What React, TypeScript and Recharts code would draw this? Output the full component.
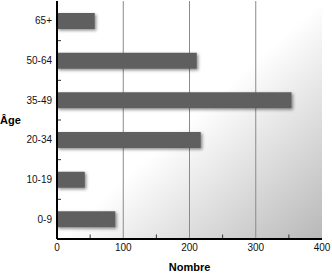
import { BarChart, Bar, XAxis, YAxis, CartesianGrid } from "recharts";

const ageGroups = ["65+", "50-64", "35-49", "20-34", "10-19", "0-9"];
const counts = [57, 211, 354, 217, 42, 88];
// labelled ticks every 100, small inner marks every 50 in between
const xTicks = [0, 50, 100, 150, 200, 250, 300, 350, 400];

const data = ageGroups.map((age, i) => ({ age, count: counts[i] }));

const GAP = 5;
const font = "Liberation Sans, Arial, sans-serif";
const labelStyle = { fill: "#000", fontSize: 11, fontWeight: "bold", fontFamily: font };

const XTick = (props: any) => {
  const { x, y, payload } = props;
  const v = payload.value;
  if (v % 100 !== 0) {
    const axisY = y - GAP;
    return <line x1={x} x2={x} y1={axisY - 1} y2={axisY - 4.5} stroke="#333" strokeWidth={1} />;
  }
  return (
    <text x={x} y={y} dy="0.71em" textAnchor="middle" fontSize={10} fontFamily={font} fill="#111">
      {v}
    </text>
  );
};

const YTick = (props: any) => {
  const { x, y, payload, index, height } = props;
  const axisX = x + GAP;
  let half = Number(payload?.offset);
  if (!half && height) half = height / ageGroups.length / 2;
  if (!half) half = 19.8;
  return (
    <g>
      <text x={x} y={y} dy="0.355em" textAnchor="end" fontSize={10} fontFamily={font} fill="#111">
        {payload.value}
      </text>
      {index < ageGroups.length - 1 && (
        <line x1={axisX + 1} x2={axisX + 4} y1={y + half} y2={y + half} stroke="#333" strokeWidth={1} />
      )}
    </g>
  );
};

export default function App() {
  return (
    <div style={{ position: "absolute", left: 0, top: 0 }}>
      <BarChart
        width={332}
        height={273}
        data={data}
        layout="vertical"
        margin={{ top: 1, right: 10, left: 0, bottom: 0 }}
      >
        <defs>
          <linearGradient id="bg" x1="0" y1="0" x2="1" y2="1">
            <stop offset="0.5" stopColor="#ffffff" />
            <stop offset="1" stopColor="#b8b8b8" />
          </linearGradient>
          <filter id="shadow" x="-10%" y="-40%" width="130%" height="200%">
            <feDropShadow dx="1.5" dy="1.5" stdDeviation="1.5" floodColor="#000" floodOpacity="0.45" />
          </filter>
        </defs>
        <CartesianGrid
          fill="url(#bg)"
          horizontal={false}
          verticalValues={[100, 200, 300]}
          stroke="#8a8a8a"
          strokeWidth={1}
        />
        <XAxis
          type="number"
          dataKey="count"
          domain={[0, 400]}
          ticks={xTicks}
          interval={0}
          tick={<XTick />}
          tickLine={false}
          tickSize={0}
          tickMargin={GAP}
          height={34}
          axisLine={{ stroke: "#000", strokeWidth: 2 }}
          label={{ value: "Nombre", position: "insideBottom", offset: 2, style: labelStyle }}
        />
        <XAxis
          xAxisId="top"
          orientation="top"
          type="number"
          domain={[0, 400]}
          tick={false}
          tickLine={false}
          height={0}
          axisLine={{ stroke: "#444", strokeWidth: 1.5 }}
        />
        <YAxis
          type="category"
          dataKey="age"
          tick={<YTick />}
          interval={0}
          tickLine={false}
          tickSize={0}
          tickMargin={GAP}
          width={57}
          axisLine={{ stroke: "#000", strokeWidth: 2 }}
          label={{ value: "Âge", position: "insideLeft", offset: 0, angle: 0, style: labelStyle }}
        />
        <YAxis
          yAxisId="right"
          orientation="right"
          type="number"
          domain={[0, 6]}
          tick={false}
          tickLine={false}
          width={0}
          axisLine={{ stroke: "#555", strokeWidth: 1.5 }}
        />
        <Bar dataKey="count" fill="#5f5f5f" barSize={16} filter="url(#shadow)" isAnimationActive={false} />
      </BarChart>
    </div>
  );
}
